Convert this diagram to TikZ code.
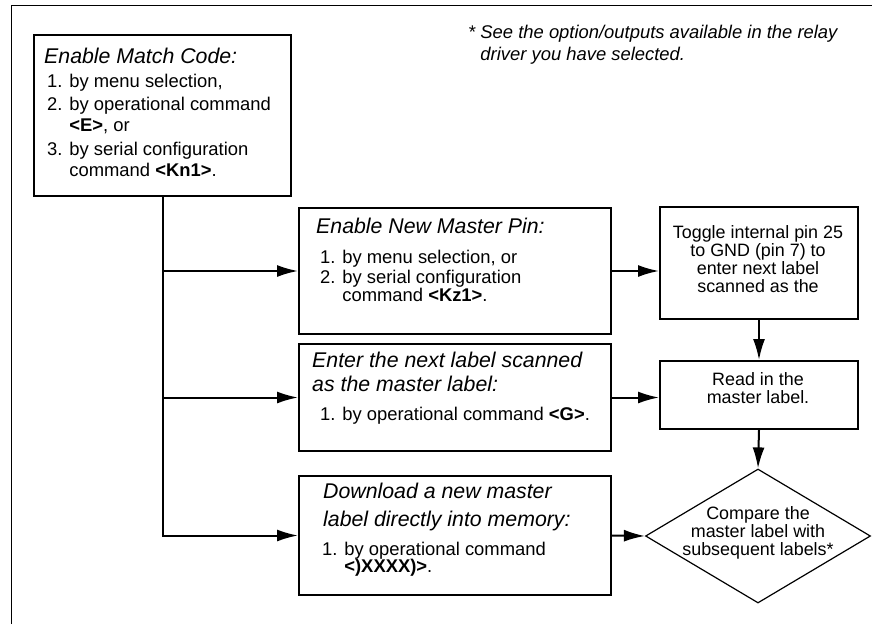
\documentclass[tikz,border=0pt]{standalone}
\usepackage{fontspec}
\setmainfont{Liberation Sans}
\usetikzlibrary{arrows.meta,shapes.geometric}
\newcommand\myhead{\fontsize{21.3}{24}\selectfont\itshape}
\newcommand\mylist{\fontsize{18.4}{21}\selectfont}
\newcommand\mynote{\fontsize{18.4}{22}\selectfont\itshape}
\newcommand\mybox{\fontsize{17.9}{17.7}\selectfont}
\begin{document}
\begin{tikzpicture}[x=1pt,y=-1pt,
  box/.style={draw,line width=2pt,inner sep=0pt,anchor=north west},
  txt/.style={inner sep=0pt,anchor=base west},
  ctxt/.style={inner sep=0pt,anchor=base},
  conn/.style={line width=2pt,-{Latex[length=21pt,width=12pt]}}]
\useasboundingbox (0,0) rectangle (872,624);
% outer frame
\draw[line width=1pt] (11,624) -- (11,5) -- (872,5);
% boxes
\node[box,minimum width=257pt,minimum height=161pt] (A) at (33,34) {};
\node[box,minimum width=312pt,minimum height=126pt] (B) at (298,207) {};
\node[box,minimum width=312pt,minimum height=107pt] (C) at (298,343) {};
\node[box,minimum width=312pt,minimum height=119pt] (Dl) at (298,475) {};
\node[box,minimum width=198pt,minimum height=112pt] (T) at (659,206) {};
\node[box,minimum width=198pt,minimum height=68pt] (R) at (659,360) {};
\node[draw,line width=1.2pt,diamond,aspect=1.68,inner sep=0pt,
  minimum width=225pt,minimum height=134pt] (D) at (758,536) {};
% texts
\node[txt] (note) at (468,38) {\mynote\begin{tabular}[t]{@{}l@{ }l@{}}*&See the option/outputs available in the relay\\&driver you have selected.\end{tabular}};
\node[txt] (Ah) at (44,63) {\myhead Enable Match Code:};
\node[txt] (Al) at (47,87) {\mylist\begin{tabular}[t]{@{}l@{ }l@{}}
1.&by menu selection,\\[2pt]
2.&by operational command\\
&\textbf{<E>}, or\\[3pt]
3.&by serial configuration\\
&command \textbf{<Kn1>}.\end{tabular}};
\node[txt] (Bh) at (316,233) {\myhead Enable New Master Pin:};
\node[txt] (Bl) at (320,263) {\mylist\begin{tabular}[t]{@{}l@{ }l@{}}
1.&by menu selection, or\\[-1pt]
2.&by serial configuration\\[-3pt]
&command \textbf{<Kz1>}.\end{tabular}};
\node[txt] (Ch) at (312,367) {\myhead\begin{tabular}[t]{@{}l@{}}Enter the next label scanned\\as the master label:\end{tabular}};
\node[txt] (Cl) at (320,420) {\mylist 1. by operational command \textbf{<G>}.};
\node[txt] (Dh) at (323,498) {\myhead\begin{tabular}[t]{@{}l@{}}Download a new master\\[4pt]label directly into memory:\end{tabular}};
\node[txt] (Dli) at (322,555) {\mylist\begin{tabular}[t]{@{}l@{ }l@{}}
1.&by operational command\\[-4pt]
&\textbf{<)XXXX)>}.\end{tabular}};
\node[ctxt] (Tt) at (758,238) {\mybox\begin{tabular}[t]{@{}c@{}}Toggle internal pin 25\\to GND (pin 7) to\\enter next label\\scanned as the\end{tabular}};
\node[ctxt] (Rt) at (758,385) {\mybox\begin{tabular}[t]{@{}c@{}}Read in the\\master label.\end{tabular}};
\node[ctxt] (Dt) at (758,519) {\mybox\begin{tabular}[t]{@{}c@{}}Compare the\\master label with\\subsequent labels*\end{tabular}};
% connectors
\coordinate (jB) at (A.south |- B.west);
\coordinate (jC) at (A.south |- C.west);
\draw[conn] (A.south) |- (Dl.west);
\draw[conn] (jB) -- (B.west);
\draw[conn] (jC) -- (C.west);
\draw[conn] (B.east) -- (B.east -| T.west);
\draw[conn] (C.east) -- (C.east -| R.west);
\draw[conn] (T.south) -- (R.north);
\draw[conn] (R.south) -- (D.north);
\draw[conn] (Dl.east) -- (D.west);
\end{tikzpicture}
\end{document}
